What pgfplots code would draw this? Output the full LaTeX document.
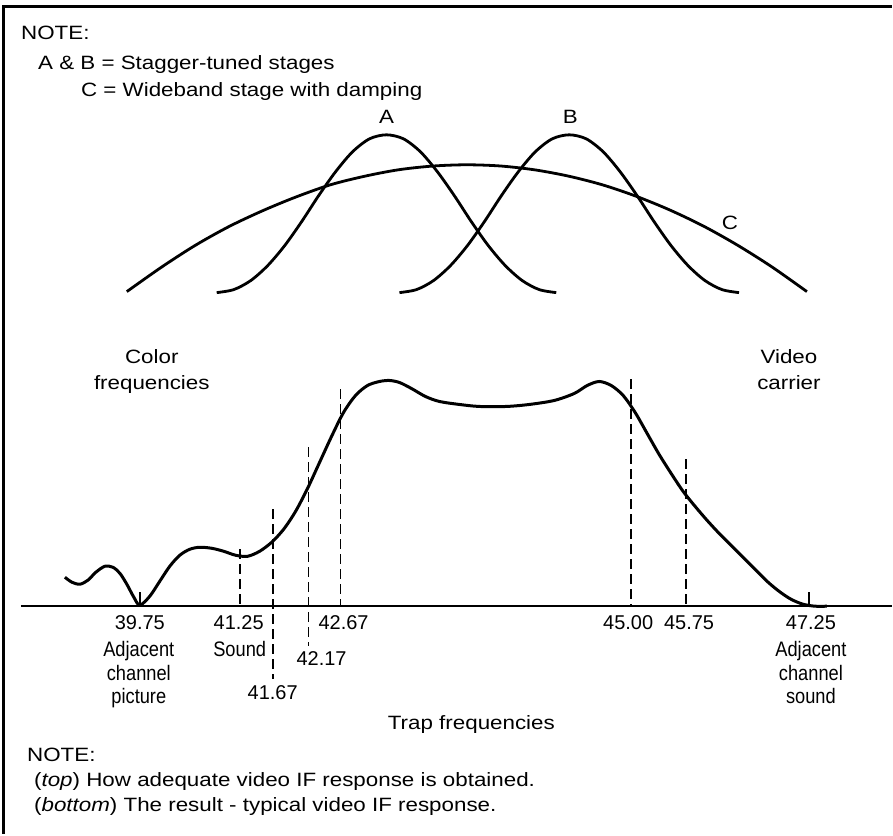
\documentclass[border=0pt]{standalone}
\usepackage{fontspec}
\setmainfont{Liberation Sans}[FakeStretch=1.16]
\newfontfamily\numfont{Liberation Sans}
\newfontfamily\condfont{Liberation Sans}[FakeStretch=0.87]
\usepackage{pgfplots}
\pgfplotsset{compat=1.18}
\newcommand\msize{\fontsize{19.3}{22}\selectfont}
\newcommand\nsize{\numfont\fontsize{20}{22}\selectfont}
\newcommand\csize{\condfont\fontsize{21}{22}\selectfont}
\begin{document}
\begin{tikzpicture}
\begin{axis}[
  x=1pt, y=1pt, y dir=reverse,
  xmin=0, xmax=893, ymin=0, ymax=835,
  hide axis, clip=false,
  every axis plot/.append style={black, no marks},
]
% invisible page box
\path (axis cs:0,0) rectangle (axis cs:893,835);
% frame
\draw[line width=2.4pt] (axis cs:3.5,835) -- (axis cs:3.5,6.5) -- (axis cs:893,6.5);

% ---------- top: stagger-tuned stages ----------
% C: wideband stage with damping
\addplot[line width=2.8pt, smooth] coordinates {
(127,292) (161,268) (195,246) (229,227) (263,211) (297,197) (331,185) (365,176.5)
(399,170) (433,166.3) (467,165) (501,166.2) (535,170) (569,176.3) (603,185)
(637,196.5) (671,210.4) (705,226.7) (739,245.8) (773,267.3) (808,292)};
% A
\addplot[line width=2.8pt, smooth] coordinates {
(217,293) (234,290) (251,281) (268,266) (285,246) (302,222) (319,196) (336,172)
(353,152) (370,139) (387,135) (404,139) (421,152) (438,172) (455,196) (472,222)
(489,246) (506,266) (523,281) (540,290) (557,293)};
% B
\addplot[line width=2.8pt, smooth] coordinates {
(400,293) (417,290) (434,281) (451,266) (468,246) (485,222) (502,196) (519,172)
(536,152) (553,139) (570,135) (587,139) (604,152) (621,172) (638,196) (655,222)
(672,246) (689,266) (706,281) (723,290) (740,293)};

% ---------- bottom: typical video IF response ----------
% baseline
\addplot[line width=1.6pt] coordinates {(21,607) (893,607)};
% trap markers (dashed)
\addplot[line width=1.8pt, dash pattern=on 10pt off 5pt] coordinates {(240,550) (240,607)};
\addplot[line width=1.8pt, dash pattern=on 10pt off 5pt] coordinates {(273,510) (273,680)};
\addplot[line width=1.8pt, dash pattern=on 10pt off 5pt] coordinates {(309,448) (309,647)};
\addplot[line width=1.8pt, dash pattern=on 10pt off 5pt] coordinates {(341,390) (341,607)};
\addplot[line width=1.8pt, dash pattern=on 10pt off 5pt] coordinates {(632,380) (632,607)};
\addplot[line width=1.8pt, dash pattern=on 10pt off 5pt] coordinates {(687,460) (687,607)};
\addplot[line width=1.6pt] coordinates {(140,593) (140,607)};
\addplot[line width=1.6pt] coordinates {(810,593) (810,607)};
% response
\addplot[line width=3pt, smooth] coordinates {
(65,578) (72,583) (80,585) (88,581) (96,573) (105,567) (113,568) (120,574)
(127,585) (134,598) (140,606) (150,597) (160,582) (170,567) (180,556) (190,550)
(200,548) (212,549) (224,552) (236,556) (248,557) (260,552) (272,543) (284,530)
(296,512) (308,489) (320,463) (332,437) (344,413) (356,396) (368,386) (380,382)
(390,381) (400,383) (412,389) (426,397) (440,402) (460,405) (480,407) (507,407)
(530,405) (555,401) (575,394) (588,386) (600,382) (612,386) (624,396) (636,413)
(648,434) (660,455) (672,474) (684,492) (696,507) (708,521) (720,534) (732,546)
(744,558) (756,570) (768,582) (780,592) (792,600) (804,605) (816,607) (828,607)};

% ---------- text ----------
\begin{scope}[every node/.style={inner sep=0pt}]
\node[anchor=base west] at (axis cs:21,40) {\msize NOTE:};
\node[anchor=base west] at (axis cs:38,70) {\msize A \& B = Stagger-tuned stages};
\node[anchor=base west] at (axis cs:81,97) {\msize C = Wideband stage with damping};
\node[anchor=base] at (axis cs:387,124) {\msize A};
\node[anchor=base] at (axis cs:571,124) {\msize B};
\node[anchor=base] at (axis cs:731,230) {\msize C};
\node[anchor=base] at (axis cs:152,364) {\msize Color};
\node[anchor=base] at (axis cs:152,390) {\msize frequencies};
\node[anchor=base] at (axis cs:790,364) {\msize Video};
\node[anchor=base] at (axis cs:790,390) {\msize carrier};

\node[anchor=base] at (axis cs:140,630) {\nsize 39.75};
\node[anchor=base] at (axis cs:239,630) {\nsize 41.25};
\node[anchor=base] at (axis cs:273,700) {\nsize 41.67};
\node[anchor=base] at (axis cs:322,666) {\nsize 42.17};
\node[anchor=base] at (axis cs:344,630) {\nsize 42.67};
\node[anchor=base] at (axis cs:629,630) {\nsize 45.00};
\node[anchor=base] at (axis cs:690,630) {\nsize 45.75};
\node[anchor=base] at (axis cs:812,630) {\nsize 47.25};

\node[anchor=base] at (axis cs:139,657) {\csize Adjacent};
\node[anchor=base] at (axis cs:139,681) {\csize channel};
\node[anchor=base] at (axis cs:139,704) {\csize picture};
\node[anchor=base] at (axis cs:240,657) {\csize Sound};
\node[anchor=base] at (axis cs:812,657) {\csize Adjacent};
\node[anchor=base] at (axis cs:812,681) {\csize channel};
\node[anchor=base] at (axis cs:812,704) {\csize sound};

\node[anchor=base] at (axis cs:472,730) {\msize Trap frequencies};
\node[anchor=base west] at (axis cs:27,763) {\msize NOTE:};
\node[anchor=base west] at (axis cs:34,788) {\msize (\textit{top}) How adequate video IF response is obtained.};
\node[anchor=base west] at (axis cs:34,813) {\msize (\textit{bottom}) The result - typical video IF response.};
\end{scope}
\end{axis}
\end{tikzpicture}
\end{document}
